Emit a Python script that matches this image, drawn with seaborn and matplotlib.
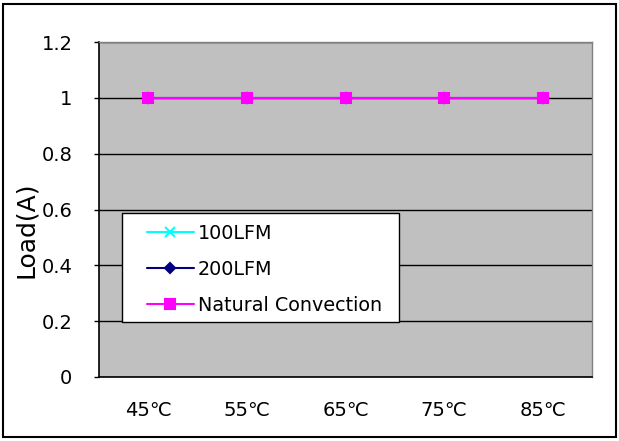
import pandas as pd
import seaborn as sns
import matplotlib.pyplot as plt
from matplotlib.patches import Rectangle

# chart values
temps = ['45℃', '55℃', '65℃', '75℃', '85℃']
load_100lfm = [1, 1, 1, 1, 1]
load_200lfm = [1, 1, 1, 1, 1]
load_natural = [1, 1, 1, 1, 1]
series_names = ['100LFM', '200LFM', 'Natural Convection']
y_ticks = [0, 0.2, 0.4, 0.6, 0.8, 1, 1.2]

df = pd.DataFrame({
    'Temp': temps * 3,
    'Load': load_100lfm + load_200lfm + load_natural,
    'Series': [series_names[0]] * 5 + [series_names[1]] * 5 + [series_names[2]] * 5,
})

sns.set_style('white')
plt.rcParams['font.family'] = ['DejaVu Sans', 'Noto Sans CJK JP']
plt.rcParams['text.color'] = 'black'
plt.rcParams['xtick.color'] = 'black'
plt.rcParams['ytick.color'] = 'black'
plt.rcParams['axes.labelcolor'] = 'black'

fig = plt.figure(figsize=(6.19, 4.41), dpi=100)
ax = fig.add_axes([99 / 619, 1 - 377 / 441, 493 / 619, 335 / 441])
ax.set_facecolor('#C0C0C0')

palette = {'100LFM': '#00FFFF', '200LFM': '#000080', 'Natural Convection': '#FF00FF'}
markers = {'100LFM': 'x', '200LFM': 'D', 'Natural Convection': 's'}
sizes = {'100LFM': 7, '200LFM': 5.5, 'Natural Convection': 7}

for name in series_names:
    sub = df[df['Series'] == name]
    sns.lineplot(data=sub, x='Temp', y='Load', ax=ax, color=palette[name],
                 marker=markers[name], markersize=sizes[name],
                 markeredgecolor=palette[name], markeredgewidth=1.5,
                 linewidth=1.5, label=name)

ax.set_xlim(-0.5, 4.5)
ax.set_ylim(0, 1.2)
ax.set_yticks(y_ticks)
ax.set_yticklabels(['0', '0.2', '0.4', '0.6', '0.8', '1', '1.2'])
ax.yaxis.grid(True, color='black', linewidth=1)
ax.set_axisbelow(True)

# category labels at centers, tick marks at boundaries
ax.set_xticks(range(5))
ax.set_xticklabels(temps, fontsize=14)
ax.set_xticks([0.5, 1.5, 2.5, 3.5], minor=True)
ax.tick_params(axis='x', which='major', length=0, pad=17)
ax.tick_params(axis='x', which='minor', length=4.3, width=1, direction='in', color='black')
ax.tick_params(axis='y', length=3.6, width=1, direction='out', color='black',
               labelsize=14, pad=15.5, left=True)

for s in ['left', 'bottom']:
    ax.spines[s].set_color('black')
    ax.spines[s].set_linewidth(1.2)
for s in ['top', 'right']:
    ax.spines[s].set_color('#808080')
    ax.spines[s].set_linewidth(1)

ax.set_xlabel('')
ax.set_ylabel('Load(A)', fontsize=18)
ax.yaxis.set_label_coords(-0.124, 0.44)

# legend box drawn separately so the entries can sit where Excel put them
ax.add_patch(Rectangle((0.0467, 0.164), 0.562, 0.325, transform=ax.transAxes,
                       facecolor='white', edgecolor='black', linewidth=1,
                       zorder=4))
leg = ax.legend(loc='upper left', bbox_to_anchor=(0.097, 0.457),
                fontsize=13.8, frameon=False, handlelength=2.45, borderpad=0,
                labelspacing=0.88, handletextpad=0.2, borderaxespad=0)
leg.set_zorder(5)

fig.patches.append(Rectangle((3 / 619, 4 / 441), 613 / 619, 433 / 441,
                             transform=fig.transFigure, fill=False,
                             edgecolor='black', linewidth=1.5))

fig.savefig('out.png', dpi=100)
